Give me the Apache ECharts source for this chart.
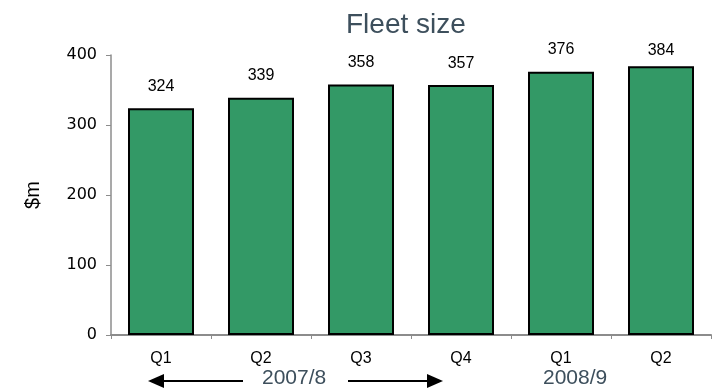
<!DOCTYPE html>
<html>
<head>
<meta charset="utf-8">
<script src="https://cdn.jsdelivr.net/npm/echarts@6/dist/echarts.min.js"></script>
<style>
  html, body { margin: 0; padding: 0; background: #fff; }
  #chart { width: 719px; height: 389px; }
</style>
</head>
<body>
<div id="chart"></div>
<script>
// Quarterly fleet size, $m
const quarters = ['Q1', 'Q2', 'Q3', 'Q4', 'Q1', 'Q2'];
const fleetSize = [324, 339, 358, 357, 376, 384];
const yTicks = [0, 100, 200, 300, 400];
const yearLabels = ['2007/8', '2008/9'];

const chart = echarts.init(document.getElementById('chart'), null, { renderer: 'canvas' });

const FONT = '"Liberation Sans", Arial, sans-serif';
const SLATE = '#3d4f5c';

const arrowHead = (tipX, dir) => ({
  type: 'polygon',
  shape: { points: [[tipX, 381], [tipX - dir * 16, 374], [tipX - dir * 16, 388]] },
  style: { fill: '#000' }
});

chart.setOption({
  animation: false,
  title: {
    text: 'Fleet size',
    left: 341,
    top: 6,
    textStyle: { fontFamily: FONT, fontSize: 28, fontWeight: 'normal', color: SLATE }
  },
  grid: { left: 111, right: 8, top: 55, bottom: 54 },
  xAxis: {
    type: 'category',
    data: quarters,
    axisLine: { lineStyle: { color: '#8c8c8c', width: 2 } },
    axisTick: { show: true, length: 4, lineStyle: { color: '#8c8c8c', width: 1 } },
    axisLabel: { color: '#000', fontFamily: FONT, fontSize: 16, margin: 16 }
  },
  yAxis: {
    type: 'value',
    min: yTicks[0],
    max: yTicks[yTicks.length - 1],
    interval: yTicks[1] - yTicks[0],
    name: '$m',
    nameLocation: 'middle',
    nameRotate: 90,
    nameGap: 68,
    nameTextStyle: { color: '#000', fontFamily: FONT, fontSize: 20 },
    axisLine: { show: true, lineStyle: { color: '#8c8c8c', width: 1.5 } },
    axisTick: { show: true, length: 5, lineStyle: { color: '#8c8c8c' } },
    axisLabel: { color: '#000', fontFamily: '"DejaVu Sans", sans-serif', fontSize: 16, margin: 14 },
    splitLine: { show: false }
  },
  series: [{
    type: 'bar',
    data: fleetSize.map((v, i) => i === fleetSize.length - 1 ? { value: v, label: { distance: 8 } } : v),
    barWidth: 66,
    itemStyle: { color: '#339966', borderColor: '#000', borderWidth: 2 },
    label: {
      show: true,
      position: 'top',
      distance: 14,
      color: '#000',
      fontFamily: FONT,
      fontSize: 16
    }
  }],
  graphic: [
    { type: 'line', shape: { x1: 160, y1: 381, x2: 243, y2: 381 }, style: { stroke: '#000', lineWidth: 2 } },
    arrowHead(148, -1),
    { type: 'line', shape: { x1: 348, y1: 381, x2: 432, y2: 381 }, style: { stroke: '#000', lineWidth: 2 } },
    arrowHead(443, 1),
    {
      type: 'text', left: 262, top: 368,
      style: { text: yearLabels[0], fill: SLATE, font: '21px "Liberation Sans", Arial, sans-serif' }
    },
    {
      type: 'text', left: 543, top: 368,
      style: { text: yearLabels[1], fill: SLATE, font: '21px "Liberation Sans", Arial, sans-serif' }
    }
  ]
});
</script>
</body>
</html>
